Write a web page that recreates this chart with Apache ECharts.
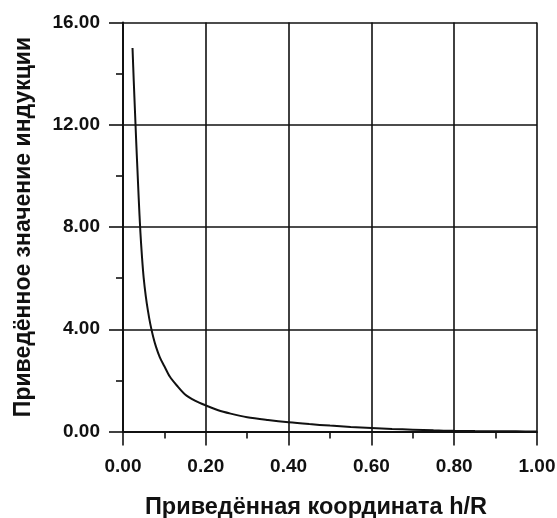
<!DOCTYPE html>
<html>
<head>
<meta charset="utf-8">
<script src="https://cdn.jsdelivr.net/npm/echarts@6/dist/echarts.min.js"></script>
<style>
  html, body { margin: 0; padding: 0; background: #fff; }
  #chart { width: 557px; height: 518px; }
</style>
</head>
<body>
<div id="chart"></div>
<script>
// Reduced coordinate h/R
const hr = [0.023, 0.026, 0.029, 0.032, 0.035, 0.038, 0.042, 0.046, 0.05, 0.055,
            0.06, 0.066, 0.073, 0.08, 0.089, 0.1, 0.113, 0.13, 0.15, 0.175,
            0.2, 0.23, 0.26, 0.3, 0.35, 0.4, 0.45, 0.5, 0.55, 0.6,
            0.65, 0.7, 0.75, 0.8, 0.85, 0.9, 0.95, 1.0];
// Reduced induction value
const induction = [15.0, 13.7, 12.5, 11.3, 10.2, 9.1, 7.8, 6.8, 6.0, 5.3,
                   4.75, 4.2, 3.7, 3.3, 2.9, 2.55, 2.15, 1.8, 1.45, 1.2,
                   1.02, 0.83, 0.7, 0.56, 0.45, 0.36, 0.29, 0.23, 0.18, 0.14,
                   0.1, 0.07, 0.045, 0.025, 0.015, 0.01, 0.005, 0.0];
const xTicks = [0, 0.2, 0.4, 0.6, 0.8, 1.0];
const yTicks = [0, 4, 8, 12, 16];

const xTitle = 'Приведённая координата h/R';
const yTitle = 'Приведённое значение индукции';

const FONT = '"Liberation Sans", Arial, sans-serif';
const INK = '#111';

const chart = echarts.init(document.getElementById('chart'), null, { renderer: 'canvas' });

const axisCommon = {
  type: 'value',
  axisLine: { show: true, onZero: false, lineStyle: { color: INK, width: 2 } },
  axisTick: { show: true, inside: false, length: 14, lineStyle: { color: INK, width: 1.6 } },
  minorTick: { show: true, splitNumber: 2, length: 7, lineStyle: { color: INK, width: 1.6 } },
  splitLine: { show: true, lineStyle: { color: INK, width: 1.6 } },
  minorSplitLine: { show: false },
  axisLabel: {
    color: INK,
    fontFamily: FONT,
    fontWeight: 'bold',
    fontSize: 19,
    formatter: v => v.toFixed(2)
  },
  nameLocation: 'middle',
  nameTextStyle: { color: INK, fontFamily: FONT, fontWeight: 'bold', fontSize: 23 }
};

chart.setOption({
  animation: false,
  backgroundColor: '#fff',
  grid: {
    left: 123, right: 20, top: 22.5, bottom: 86.5,
    containLabel: false,
    outerBoundsMode: 'none'
  },
  xAxis: Object.assign({}, axisCommon, {
    min: xTicks[0],
    max: xTicks[xTicks.length - 1],
    interval: xTicks[1] - xTicks[0],
    name: xTitle,
    nameGap: 64,
    nameTextStyle: Object.assign({}, axisCommon.nameTextStyle, { fontSize: 23.5, padding: [0, 28, 0, 0] }),
    axisLabel: Object.assign({}, axisCommon.axisLabel, { margin: 26 })
  }),
  yAxis: Object.assign({}, axisCommon, {
    min: yTicks[0],
    max: yTicks[yTicks.length - 1],
    interval: yTicks[1] - yTicks[0],
    name: yTitle,
    nameGap: 88,
    nameRotate: 90,
    axisLabel: Object.assign({}, axisCommon.axisLabel, { margin: 23 })
  }),
  series: [{
    type: 'line',
    data: hr.map((x, i) => [x, induction[i]]),
    showSymbol: false,
    smooth: 0.3,
    lineStyle: { color: INK, width: 2 },
    clip: true
  }]
});
</script>
</body>
</html>
